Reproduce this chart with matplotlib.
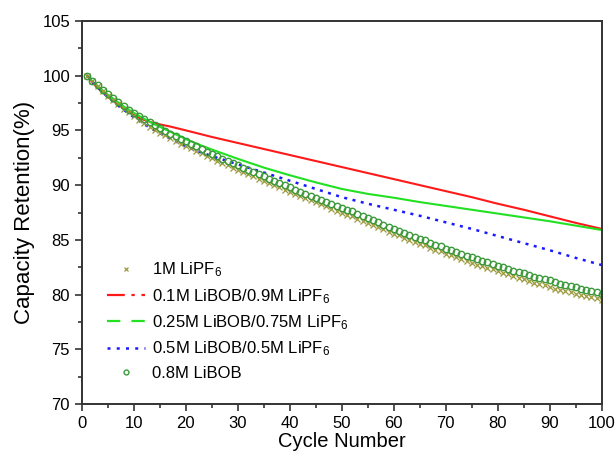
import matplotlib
matplotlib.use("Agg")
import matplotlib.pyplot as plt
from matplotlib.lines import Line2D
from matplotlib.ticker import MultipleLocator

plt.rcParams["font.family"] = ["Liberation Sans", "DejaVu Sans"]
plt.rcParams["mathtext.fontset"] = "custom"
plt.rcParams["mathtext.rm"] = "Liberation Sans"
plt.rcParams["mathtext.it"] = "Liberation Sans"

# per-cycle values (marker series)
cycles = list(range(1, 101))
lipf6_1m = [
    100.0, 99.5, 99.05, 98.6, 98.15, 97.75, 97.4, 97.0, 96.65, 96.3,
    95.95, 95.65, 95.35, 95.05, 94.8, 94.55, 94.3, 94.05, 93.8, 93.6,
    93.35, 93.15, 92.9, 92.65, 92.45, 92.25, 92.0, 91.8, 91.6, 91.4,
    91.2, 91.0, 90.8, 90.6, 90.4, 90.2, 90.0, 89.8, 89.6, 89.4,
    89.2, 89.0, 88.8, 88.65, 88.45, 88.25, 88.05, 87.85, 87.65, 87.5,
    87.3, 87.15, 86.95, 86.75, 86.55, 86.35, 86.15, 85.95, 85.75, 85.55,
    85.4, 85.2, 85.0, 84.85, 84.65, 84.5, 84.3, 84.1, 83.95, 83.75,
    83.6, 83.4, 83.25, 83.05, 82.9, 82.75, 82.6, 82.45, 82.3, 82.15,
    82.0, 81.85, 81.7, 81.55, 81.4, 81.25, 81.1, 80.95, 80.85, 80.7,
    80.55, 80.45, 80.3, 80.2, 80.05, 79.95, 79.85, 79.75, 79.65, 79.55,
]
libob_08m = [
    100.0, 99.55, 99.15, 98.7, 98.3, 97.95, 97.6, 97.25, 96.9, 96.6,
    96.3, 96.0, 95.75, 95.45, 95.2, 94.95, 94.7, 94.45, 94.2, 94.0,
    93.75, 93.55, 93.3, 93.05, 92.85, 92.65, 92.4, 92.2, 92.0, 91.8,
    91.6, 91.4, 91.2, 91.0, 90.8, 90.6, 90.4, 90.2, 90.0, 89.8,
    89.6, 89.4, 89.2, 89.05, 88.85, 88.65, 88.5, 88.3, 88.1, 87.95,
    87.75, 87.6, 87.4, 87.2, 87.0, 86.8, 86.6, 86.4, 86.2, 86.0,
    85.85, 85.65, 85.45, 85.3, 85.1, 84.95, 84.75, 84.55, 84.4, 84.2,
    84.05, 83.9, 83.7, 83.55, 83.4, 83.25, 83.1, 82.95, 82.8, 82.65,
    82.5, 82.35, 82.2, 82.05, 81.95, 81.8, 81.65, 81.5, 81.4, 81.3,
    81.15, 81.0, 80.9, 80.8, 80.65, 80.55, 80.45, 80.35, 80.2, 80.1,
]

# line series, read at selected cycles
red_x = [1, 2, 3, 4, 5, 6, 7, 8, 9, 10, 11, 12, 13, 14, 15, 17, 20, 25, 30, 35,
         40, 45, 50, 55, 60, 65, 70, 75, 80, 85, 90, 95, 100]
red_y = [100.0, 99.4, 98.9, 98.45, 98.05, 97.7, 97.35, 97.0, 96.7, 96.4, 96.15,
         95.95, 95.8, 95.65, 95.55, 95.35, 95.0, 94.4, 93.85, 93.3, 92.75, 92.2,
         91.65, 91.1, 90.55, 90.0, 89.45, 88.9, 88.3, 87.75, 87.15, 86.55, 86.0]

green_x = [1, 2, 3, 4, 5, 6, 7, 8, 9, 10, 12, 14, 16, 18, 20, 22, 25, 30, 35, 40,
           45, 50, 55, 60, 65, 70, 75, 80, 85, 90, 95, 100]
green_y = [100.0, 99.5, 99.05, 98.65, 98.25, 97.9, 97.55, 97.2, 96.9, 96.6, 96.05,
           95.55, 95.1, 94.65, 94.2, 93.8, 93.25, 92.4, 91.6, 90.9, 90.25, 89.65,
           89.2, 88.85, 88.45, 88.1, 87.75, 87.4, 87.05, 86.7, 86.3, 85.9]

blue_x = [1, 2, 3, 4, 5, 6, 7, 8, 9, 10, 12, 14, 16, 18, 20, 22, 25, 28, 30, 35,
          40, 45, 50, 55, 60, 65, 70, 75, 80, 85, 90, 95, 100]
blue_y = [100.0, 99.45, 98.95, 98.5, 98.05, 97.65, 97.25, 96.9, 96.55, 96.2, 95.55,
          95.0, 94.5, 94.0, 93.55, 93.15, 92.65, 92.2, 91.9, 91.15, 90.4, 89.65,
          88.9, 88.3, 87.75, 87.2, 86.6, 86.0, 85.35, 84.7, 84.05, 83.35, 82.7]

labels = [
    "1M LiPF$_6$",
    "0.1M LiBOB/0.9M LiPF$_6$",
    "0.25M LiBOB/0.75M LiPF$_6$",
    "0.5M LiBOB/0.5M LiPF$_6$",
    "0.8M LiBOB",
]

olive = "#9c9a3c"
circ = "#3c9a3c"
red = "#ff1a1a"
green = "#22e022"
blue = "#1a1aff"

fig = plt.figure(figsize=(6.16, 4.65), dpi=100)
ax = fig.add_axes([0.133, 0.131, 0.844, 0.824])

ax.plot(red_x, red_y, color=red, lw=1.5)
ax.plot(green_x, green_y, color=green, lw=1.5)
ax.plot(blue_x, blue_y, color=blue, lw=1.8, linestyle=(0, (1.2, 2.2)))
ax.plot(cycles, lipf6_1m, linestyle="none", marker="x", ms=3.8, mew=0.9, color=olive)
ax.plot(cycles, libob_08m, linestyle="none", marker="o", ms=4.6, mew=1.0,
        markerfacecolor="none", markeredgecolor=circ)

ax.set_xlim(0, 100)
ax.set_ylim(70, 105)
ax.xaxis.set_major_locator(MultipleLocator(10))
ax.xaxis.set_minor_locator(MultipleLocator(5))
ax.yaxis.set_major_locator(MultipleLocator(5))
ax.yaxis.set_minor_locator(MultipleLocator(2.5))
ax.tick_params(which="both", direction="out", top=False, right=False,
               width=1.1, color="#222222", labelsize=12)
ax.tick_params(which="major", length=5)
ax.tick_params(which="minor", length=3)
for s in ax.spines.values():
    s.set_linewidth(1.4)
    s.set_color("#333333")

ax.set_xlabel("Cycle Number", fontsize=14.5, labelpad=1)
ax.set_ylabel("Capacity Retention(%)", fontsize=16, labelpad=5)

handles = [
    Line2D([], [], linestyle="none", marker="x", ms=3.5, mew=0.9, color=olive),
    Line2D([], [], color=red, lw=1.6, linestyle=(0, (8, 3, 1.5, 3))),
    Line2D([], [], color=green, lw=1.6, linestyle=(0, (6, 5))),
    Line2D([], [], color=blue, lw=1.8, linestyle=(0, (1.2, 2.5))),
    Line2D([], [], linestyle="none", marker="o", ms=3.5, mew=1.0,
           markerfacecolor="none", markeredgecolor=circ),
]
ax.legend(handles, labels, loc="upper left", bbox_to_anchor=(0.035, 0.392),
          frameon=False, fontsize=12, handlelength=2.3, handletextpad=0.4,
          labelspacing=0.46, borderaxespad=0)

fig.savefig("out.png", dpi=100)
